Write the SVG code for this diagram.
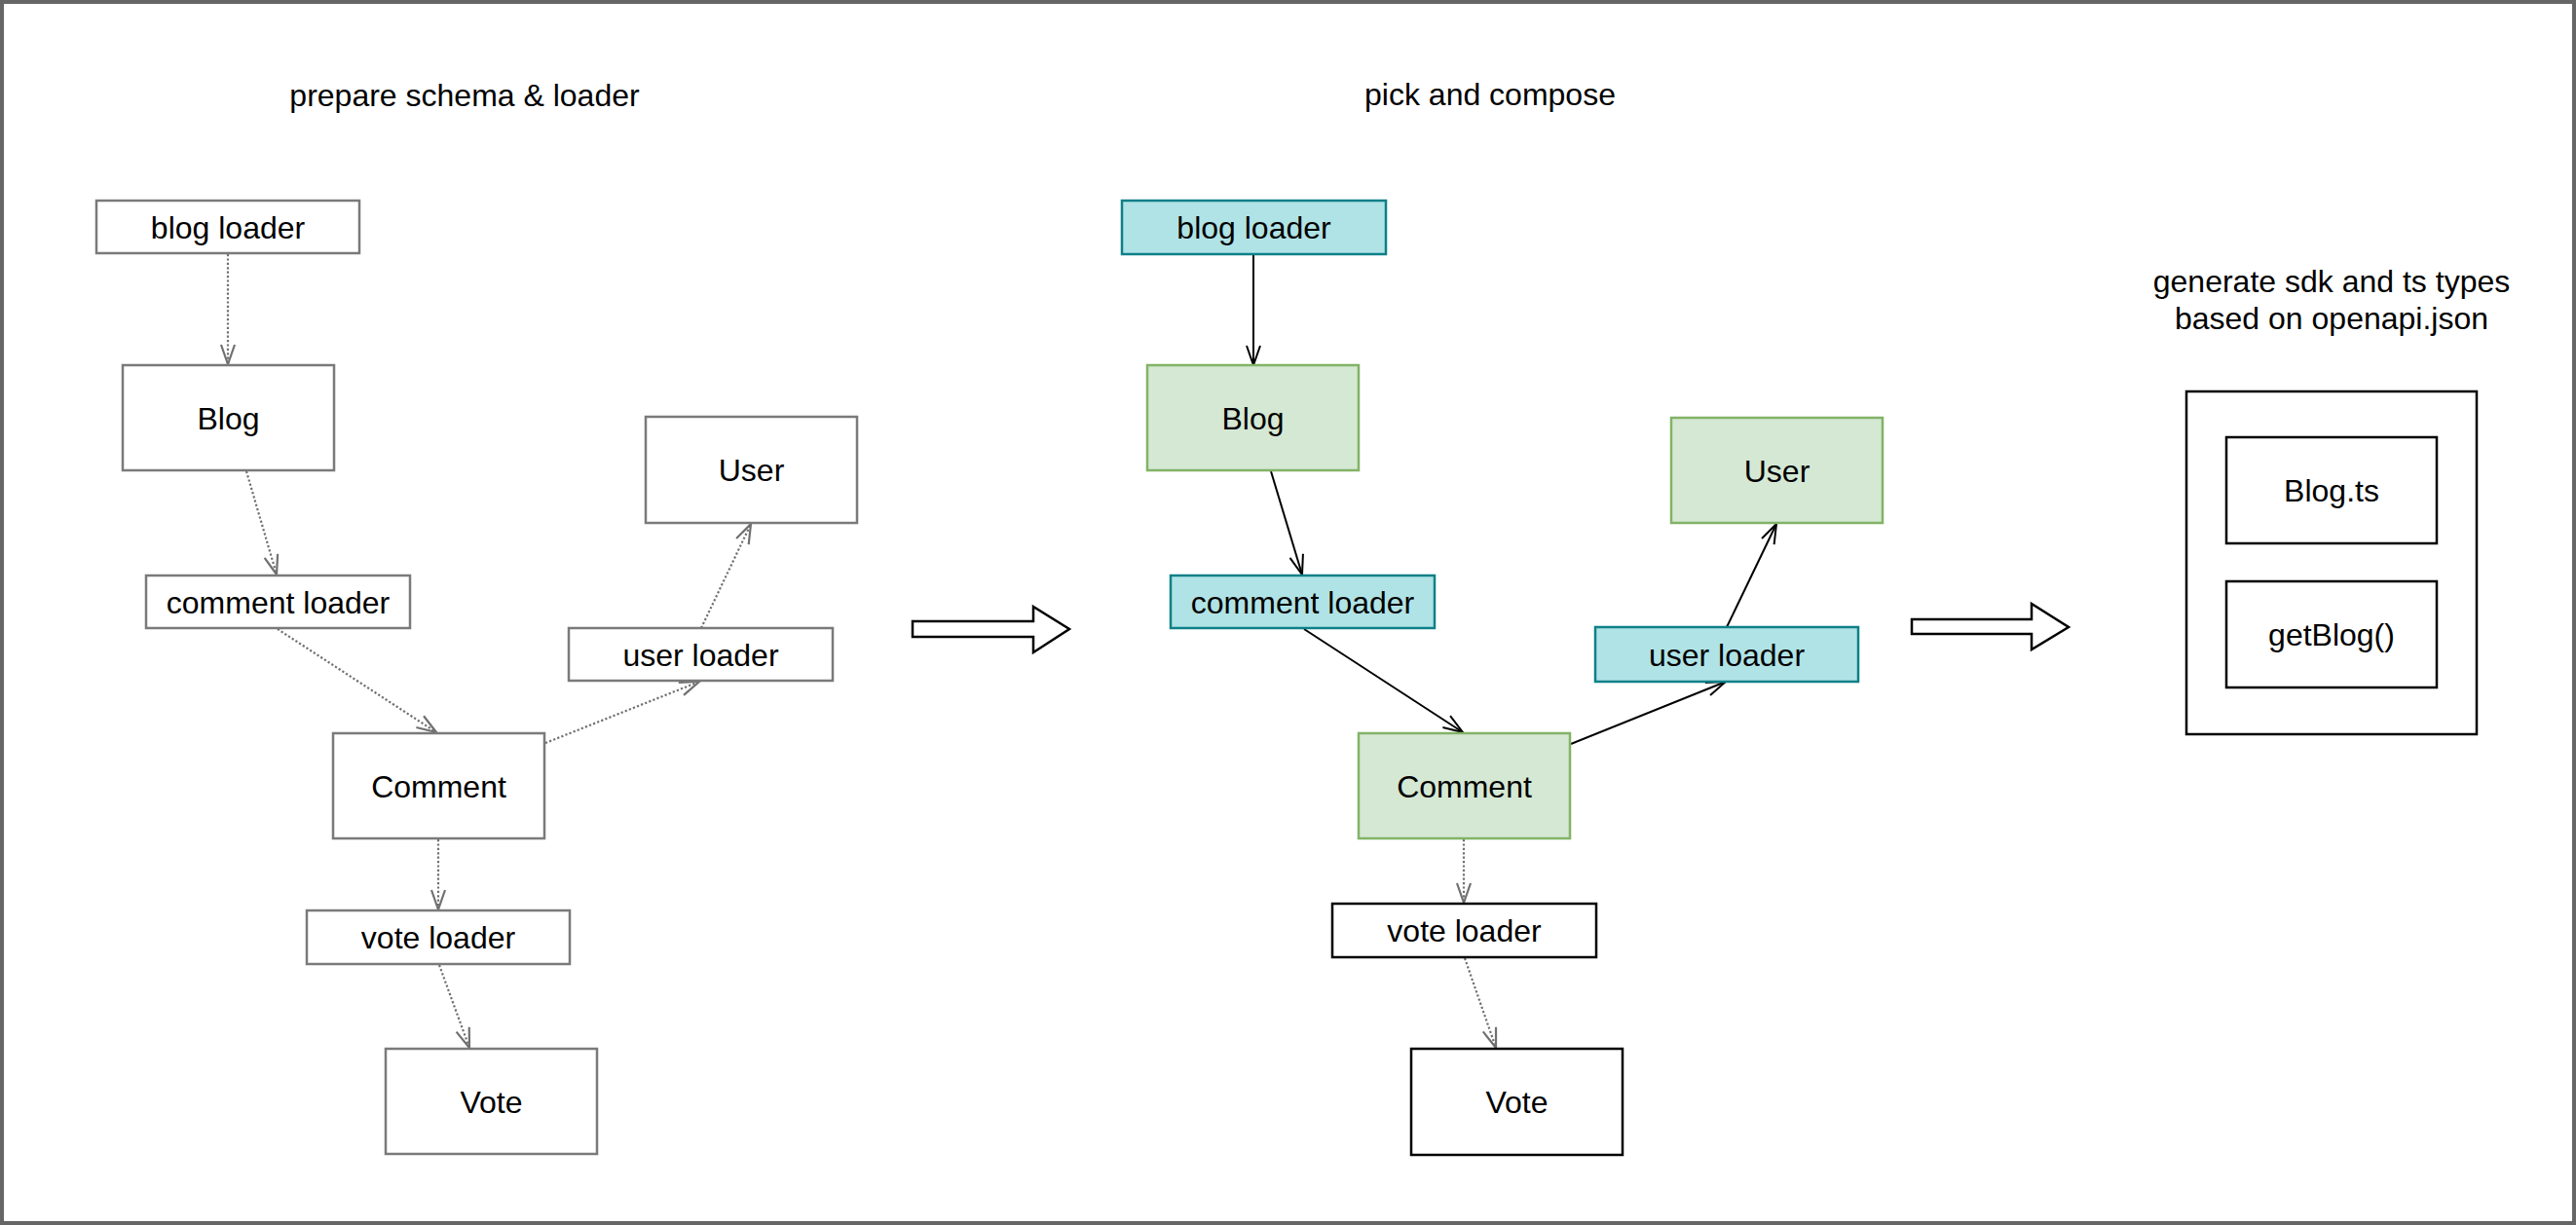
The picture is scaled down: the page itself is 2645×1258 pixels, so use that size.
<svg xmlns="http://www.w3.org/2000/svg" width="2645" height="1258" viewBox="0 0 2645 1258">
<style>
text{font-family:"Liberation Sans",Arial,Helvetica,sans-serif;font-size:32px;fill:#000;text-anchor:middle}
.gbox{fill:#fff;stroke:#7a7a7a;stroke-width:2.5}
.tbox{fill:#b0e3e6;stroke:#0e8088;stroke-width:2.5}
.green{fill:#d5e8d4;stroke:#82b366;stroke-width:2.5}
.bbox{fill:#fff;stroke:#000;stroke-width:2.5}
.dot{fill:none;stroke:#707070;stroke-width:2.2;stroke-dasharray:2.2 2.2;marker-end:url(#arrGray)}
.sol{fill:none;stroke:#000;stroke-width:2;marker-end:url(#arrBlack)}
.big{fill:#fff;stroke:#000;stroke-width:2.5;stroke-linejoin:miter}
</style>
<defs>
<marker id="arrGray" markerUnits="userSpaceOnUse" viewBox="-23 -10 26 20" markerWidth="26" markerHeight="20" refX="0" refY="0" orient="auto"><path d="M-20,-7 L0,0 L-20,7" fill="none" stroke="#707070" stroke-width="2.2"/></marker>
<marker id="arrBlack" markerUnits="userSpaceOnUse" viewBox="-23 -10 26 20" markerWidth="26" markerHeight="20" refX="0" refY="0" orient="auto"><path d="M-20,-7 L0,0 L-20,7" fill="none" stroke="#000" stroke-width="2"/></marker>
</defs>
<rect x="0" y="0" width="2645" height="1258" fill="#fff"/>
<rect id="frame" x="2" y="2" width="2641" height="1254" fill="none" stroke="#666" stroke-width="4"/>

<g id="titles">
<text x="477" y="109">prepare schema &amp; loader</text>
<text x="1530" y="108">pick and compose</text>
<text x="2394" y="300">generate sdk and ts types</text>
<text x="2394" y="338">based on openapi.json</text>
</g>

<g id="connectors">
<line class="dot" x1="234" y1="261" x2="234" y2="374"/>
<line class="dot" x1="253" y1="484" x2="284" y2="590"/>
<line class="dot" x1="285" y1="646" x2="448" y2="752"/>
<line class="dot" x1="560" y1="763" x2="718" y2="700"/>
<line class="dot" x1="720" y1="645" x2="771" y2="538"/>
<line class="dot" x1="450" y1="862" x2="450" y2="934"/>
<line class="dot" x1="451" y1="991" x2="482" y2="1076"/>

<line class="sol" x1="1287" y1="262" x2="1287" y2="375"/>
<line class="sol" x1="1305" y1="484" x2="1337" y2="590"/>
<line class="sol" x1="1339" y1="646" x2="1502" y2="752"/>
<line class="sol" x1="1613" y1="764" x2="1772" y2="700"/>
<line class="sol" x1="1773" y1="644" x2="1824" y2="538"/>
<line class="dot" x1="1503" y1="862" x2="1503" y2="927"/>
<line class="dot" x1="1504" y1="984" x2="1536" y2="1076"/>
</g>

<g id="bigArrows">
<polygon id="arrow1" class="big" points="937,638 1061,638 1061,623 1098,646 1061,670 1061,654 937,654"/>
<polygon id="arrow2" class="big" points="1963,636 2086,636 2086,620 2124,644 2086,667 2086,651 1963,651"/>
</g>

<g id="left-blog-loader"><rect class="gbox" x="99" y="206" width="270" height="54"/><text x="234" y="244.5">blog loader</text></g>
<g id="left-blog"><rect class="gbox" x="126" y="375" width="217" height="108"/><text x="234.5" y="440.5">Blog</text></g>
<g id="left-comment-loader"><rect class="gbox" x="150" y="591" width="271" height="54"/><text x="285.5" y="629.5">comment loader</text></g>
<g id="left-user"><rect class="gbox" x="663" y="428" width="217" height="109"/><text x="771.5" y="494">User</text></g>
<g id="left-user-loader"><rect class="gbox" x="584" y="645" width="271" height="54"/><text x="719.5" y="683.5">user loader</text></g>
<g id="left-comment"><rect class="gbox" x="342" y="753" width="217" height="108"/><text x="450.5" y="818.5">Comment</text></g>
<g id="left-vote-loader"><rect class="gbox" x="315" y="935" width="270" height="55"/><text x="450" y="973.5">vote loader</text></g>
<g id="left-vote"><rect class="gbox" x="396" y="1077" width="217" height="108"/><text x="504.5" y="1142.5">Vote</text></g>

<g id="mid-blog-loader"><rect class="tbox" x="1152" y="206" width="271" height="55"/><text x="1287.5" y="245">blog loader</text></g>
<g id="mid-blog"><rect class="green" x="1178" y="375" width="217" height="108"/><text x="1286.5" y="440.5">Blog</text></g>
<g id="mid-comment-loader"><rect class="tbox" x="1202" y="591" width="271" height="54"/><text x="1337.5" y="629.5">comment loader</text></g>
<g id="mid-user"><rect class="green" x="1716" y="429" width="217" height="108"/><text x="1824.5" y="494.5">User</text></g>
<g id="mid-user-loader"><rect class="tbox" x="1638" y="644" width="270" height="56"/><text x="1773" y="683.5">user loader</text></g>
<g id="mid-comment"><rect class="green" x="1395" y="753" width="217" height="108"/><text x="1503.5" y="818.5">Comment</text></g>
<g id="mid-vote-loader"><rect class="bbox" x="1368" y="928" width="271" height="55"/><text x="1503.5" y="967">vote loader</text></g>
<g id="mid-vote"><rect class="bbox" x="1449" y="1077" width="217" height="109"/><text x="1557.5" y="1143">Vote</text></g>

<g id="sdk-container"><rect class="bbox" x="2245" y="402" width="298" height="352"/></g>
<g id="blog-ts"><rect class="bbox" x="2286" y="449" width="216" height="109"/><text x="2394" y="515">Blog.ts</text></g>
<g id="get-blog"><rect class="bbox" x="2286" y="597" width="216" height="109"/><text x="2394" y="663">getBlog()</text></g>
</svg>
